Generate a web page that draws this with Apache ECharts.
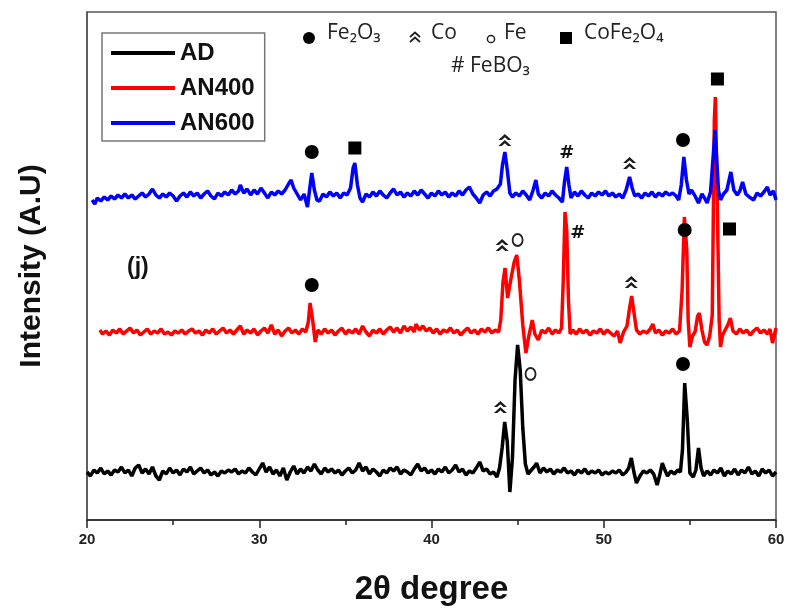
<!DOCTYPE html>
<html>
<head>
<meta charset="utf-8">
<script src="https://cdn.jsdelivr.net/npm/echarts@6/dist/echarts.min.js"></script>
<style>
  html, body { margin: 0; padding: 0; background: #fff; }
  #xrd { width: 792px; height: 615px; }
</style>
</head>
<body>
<div id="xrd"></div>
<script>
// 2theta (deg) / intensity (a.u., traces already offset)
var adData = [[20,48],[20.2,44],[20.4,50],[20.6,47],[20.8,52],[21,46],[21.2,49],[21.4,45],[21.6,50],[21.8,48],[22,53],[22.2,47],[22.4,50],[22.6,44],[22.8,52],[23,55],[23.2,47],[23.4,51],[23.6,46],[23.8,53],[24,44],[24.2,40],[24.4,49],[24.6,46],[24.8,52],[25,47],[25.2,50],[25.4,45],[25.6,51],[25.8,48],[26,53],[26.2,46],[26.4,49],[26.6,52],[26.8,47],[27,50],[27.2,45],[27.4,48],[27.6,44],[27.8,49],[28,47],[28.2,50],[28.4,48],[28.6,51],[28.8,46],[29,49],[29.2,47],[29.4,52],[29.6,48],[29.8,45],[30,51],[30.2,57],[30.4,48],[30.6,53],[30.8,46],[31,50],[31.2,44],[31.4,52],[31.6,40],[31.8,48],[32,54],[32.2,46],[32.4,51],[32.6,47],[32.8,53],[33,49],[33.2,56],[33.4,50],[33.6,46],[33.8,52],[34,48],[34.2,51],[34.4,47],[34.6,50],[34.8,45],[35,49],[35.2,52],[35.4,47],[35.6,50],[35.8,57],[36,49],[36.2,53],[36.4,46],[36.6,51],[36.8,48],[37,44],[37.2,50],[37.4,47],[37.6,52],[37.8,49],[38,53],[38.2,46],[38.4,50],[38.6,48],[38.8,45],[39,51],[39.2,56],[39.4,49],[39.6,52],[39.8,47],[40,50],[40.2,46],[40.4,51],[40.6,48],[40.8,53],[41,47],[41.2,50],[41.4,55],[41.6,48],[41.8,51],[42,45],[42.2,49],[42.4,47],[42.6,52],[42.8,58],[43,49],[43.2,51],[43.4,46],[43.6,48],[43.8,43],[43.95,52],[44.1,72],[44.25,98],[44.4,78],[44.55,28],[44.7,62],[44.85,140],[45,175],[45.15,150],[45.3,92],[45.45,56],[45.6,46],[45.8,50],[46,54],[46.1,57],[46.3,47],[46.5,52],[46.7,48],[46.9,51],[47.1,46],[47.3,50],[47.5,48],[47.7,52],[47.9,47],[48.1,49],[48.3,45],[48.5,50],[48.7,47],[48.9,51],[49.1,46],[49.3,49],[49.5,47],[49.7,50],[49.9,45],[50.1,48],[50.3,46],[50.5,49],[50.7,47],[50.9,50],[51.1,45],[51.3,48],[51.45,52],[51.6,62],[51.75,48],[51.9,37],[52.1,44],[52.3,49],[52.5,47],[52.7,50],[52.9,46],[53.1,35],[53.25,45],[53.4,57],[53.55,50],[53.7,44],[53.9,49],[54.1,46],[54.3,50],[54.45,48],[54.57,70],[54.7,137],[54.85,100],[55,47],[55.2,43],[55.35,50],[55.5,72],[55.65,52],[55.8,44],[56,49],[56.2,45],[56.4,50],[56.6,47],[56.8,52],[57,44],[57.2,49],[57.4,46],[57.6,51],[57.8,45],[58,50],[58.2,47],[58.4,53],[58.6,46],[58.8,49],[59,44],[59.2,51],[59.4,47],[59.6,50],[59.8,44],[60,48]];

var an400Data = [[20.75,190],[20.9,186],[21.1,189],[21.3,185],[21.5,190],[21.7,187],[21.9,191],[22.1,186],[22.3,189],[22.5,192],[22.7,187],[22.9,190],[23.1,185],[23.3,188],[23.5,191],[23.7,186],[23.9,189],[24.1,187],[24.3,191],[24.5,186],[24.7,188],[24.9,185],[25.1,189],[25.3,187],[25.5,190],[25.7,186],[25.9,189],[26.1,191],[26.3,187],[26.5,189],[26.7,185],[26.9,190],[27.1,187],[27.3,191],[27.5,186],[27.7,189],[27.9,192],[28.1,187],[28.3,190],[28.5,186],[28.7,190],[28.9,194],[29.1,186],[29.3,190],[29.5,187],[29.7,191],[29.9,185],[30.1,189],[30.3,192],[30.5,187],[30.7,195],[30.9,186],[31.1,190],[31.3,184],[31.5,189],[31.7,192],[31.9,187],[32.1,190],[32.3,186],[32.5,191],[32.7,188],[32.85,198],[32.95,217],[33.1,200],[33.25,178],[33.4,190],[33.6,186],[33.8,191],[34,187],[34.2,190],[34.4,185],[34.6,189],[34.8,192],[35,186],[35.2,190],[35.4,187],[35.6,191],[35.8,186],[36,194],[36.2,188],[36.4,184],[36.6,190],[36.8,187],[37,191],[37.2,186],[37.4,190],[37.6,193],[37.8,188],[38,192],[38.2,187],[38.4,194],[38.6,189],[38.8,193],[39,188],[39.1,196],[39.3,190],[39.5,194],[39.7,189],[39.9,192],[40.1,187],[40.3,191],[40.5,186],[40.7,190],[40.9,188],[41.1,192],[41.3,187],[41.5,190],[41.7,185],[41.9,189],[42.1,192],[42.3,187],[42.5,190],[42.7,186],[42.9,191],[43.1,188],[43.3,192],[43.5,187],[43.7,190],[43.9,188],[44.02,200],[44.15,238],[44.27,252],[44.42,222],[44.6,240],[44.8,258],[44.95,265],[45.1,240],[45.3,195],[45.48,167],[45.65,184],[45.85,200],[46,186],[46.2,180],[46.4,190],[46.6,187],[46.8,192],[47,186],[47.2,190],[47.4,187],[47.55,192],[47.65,240],[47.75,308],[47.85,290],[47.95,220],[48.05,186],[48.2,190],[48.4,186],[48.6,191],[48.8,187],[49,190],[49.2,185],[49.4,189],[49.6,187],[49.8,191],[50,186],[50.2,190],[50.4,187],[50.6,184],[50.8,189],[50.95,177],[51.15,188],[51.35,194],[51.5,212],[51.62,224],[51.75,208],[51.9,190],[52.1,186],[52.3,189],[52.5,187],[52.7,191],[52.85,196],[53,187],[53.2,190],[53.4,185],[53.6,189],[53.8,187],[54,191],[54.2,186],[54.4,189],[54.55,230],[54.68,303],[54.82,270],[54.9,200],[55,173],[55.15,184],[55.3,188],[55.45,204],[55.55,207],[55.7,190],[55.85,178],[56,175],[56.15,184],[56.3,205],[56.42,400],[56.48,423],[56.58,330],[56.7,200],[56.78,173],[56.9,185],[57.05,190],[57.2,195],[57.35,202],[57.5,189],[57.7,186],[57.9,191],[58.1,187],[58.3,190],[58.5,185],[58.7,189],[58.9,192],[59.1,187],[59.3,190],[59.5,186],[59.65,191],[59.8,177],[60,192]];

var an600Data = [[20.3,320],[20.45,316],[20.6,322],[20.8,319],[21,323],[21.2,320],[21.4,324],[21.6,321],[21.8,325],[22,322],[22.2,326],[22.4,322],[22.6,325],[22.8,321],[23,324],[23.2,327],[23.4,323],[23.6,326],[23.8,331],[24,325],[24.2,322],[24.4,326],[24.6,323],[24.8,327],[25,324],[25.2,319],[25.4,324],[25.6,327],[25.8,323],[26,328],[26.2,324],[26.4,327],[26.6,322],[26.8,326],[27,329],[27.2,324],[27.4,321],[27.6,327],[27.8,324],[28,328],[28.2,325],[28.4,330],[28.6,326],[28.8,329],[28.9,335],[29.1,327],[29.3,331],[29.5,325],[29.7,330],[29.9,326],[30.1,332],[30.3,327],[30.5,322],[30.7,328],[30.9,325],[31.1,329],[31.3,326],[31.5,330],[31.7,336],[31.85,340],[32,332],[32.2,326],[32.4,320],[32.6,326],[32.8,313],[32.92,330],[33.05,347],[33.2,330],[33.35,320],[33.5,319],[33.7,326],[33.9,323],[34.1,328],[34.3,324],[34.5,327],[34.7,322],[34.9,327],[35.1,325],[35.3,332],[35.45,352],[35.55,357],[35.7,335],[35.85,322],[36,318],[36.2,326],[36.4,323],[36.6,328],[36.8,324],[37,329],[37.2,325],[37.4,322],[37.6,327],[37.8,331],[38,325],[38.2,328],[38.4,323],[38.6,327],[38.8,324],[39,329],[39.2,325],[39.4,330],[39.6,326],[39.8,322],[40,327],[40.2,324],[40.4,329],[40.6,325],[40.8,328],[41,323],[41.2,327],[41.4,324],[41.6,329],[41.8,325],[42,330],[42.2,333],[42.4,326],[42.6,322],[42.8,317],[43,325],[43.2,328],[43.4,324],[43.6,329],[43.8,331],[44,336],[44.12,355],[44.26,368],[44.4,350],[44.55,327],[44.7,323],[44.9,327],[45.1,324],[45.3,329],[45.5,325],[45.7,320],[45.9,330],[46.06,340],[46.2,326],[46.4,322],[46.6,327],[46.8,324],[47,329],[47.2,325],[47.4,322],[47.6,318],[47.72,338],[47.85,353],[47.98,335],[48.1,322],[48.3,328],[48.5,324],[48.7,329],[48.9,325],[49.1,322],[49.3,327],[49.5,324],[49.7,328],[49.9,325],[50.1,329],[50.3,324],[50.5,327],[50.7,323],[50.9,326],[51.1,322],[51.3,330],[51.5,343],[51.65,332],[51.8,324],[52,326],[52.2,322],[52.4,327],[52.6,324],[52.8,328],[53,323],[53.2,327],[53.4,324],[53.6,328],[53.8,325],[54,327],[54.2,324],[54.35,320],[54.5,335],[54.65,363],[54.8,340],[54.95,326],[55.1,330],[55.3,324],[55.5,317],[55.7,326],[55.85,322],[56,317],[56.2,328],[56.38,370],[56.46,390],[56.56,360],[56.66,330],[56.78,320],[56.95,326],[57.15,330],[57.38,348],[57.55,330],[57.75,325],[57.9,329],[58.06,338],[58.25,326],[58.45,323],[58.7,320],[58.9,327],[59.1,324],[59.3,328],[59.5,333],[59.65,325],[59.85,329],[60,320]];

var seriesNames = ['AD', 'AN400', 'AN600'];
var xTicks = [20, 30, 40, 50, 60];

// phase markers: [phase, 2theta, height]
var peakMarks = [
  ['Fe2O3', 33.05, 368], ['CoFe2O4', 35.55, 372], ['Co', 44.26, 380], ['FeBO3', 47.85, 367],
  ['Co', 51.5, 357], ['Fe2O3', 54.6, 380], ['CoFe2O4', 56.6, 441],
  ['Fe2O3', 33.05, 235], ['Co', 44.1, 275], ['Fe', 45.0, 280], ['FeBO3', 48.5, 287],
  ['Co', 51.6, 238], ['Fe2O3', 54.7, 290], ['CoFe2O4', 57.3, 291],
  ['Co', 44.0, 113], ['Fe', 45.75, 146], ['Fe2O3', 54.6, 156]
];

var chevron = 'path://M0,5.6L6,0L12,5.6L8.9,5.6L6,3.1L3.1,5.6ZM0,11.2L6,5.6L12,11.2L8.9,11.2L6,8.7L3.1,11.2Z';

function markItem(m) {
  var item = { value: [m[1], m[2]] };
  if (m[0] == 'Fe2O3') { item.symbol = 'circle'; item.symbolSize = 14; }
  else if (m[0] == 'CoFe2O4') { item.symbol = 'rect'; item.symbolSize = 13; }
  else if (m[0] == 'Co') { item.symbol = chevron; item.symbolSize = [13, 12]; item.itemStyle = { color: '#1a1a1a', opacity: 1 }; }
  else if (m[0] == 'Fe') {
    item.symbol = 'circle'; item.symbolSize = [10, 12];
    item.itemStyle = { color: '#fff', borderColor: '#222', borderWidth: 2, opacity: 1 };
  } else {
    item.symbol = 'circle'; item.symbolSize = 1;
    item.itemStyle = { color: 'transparent' };
    item.label = { show: true, formatter: '#', position: 'inside', fontSize: 18, fontWeight: 'bold', color: '#111', fontFamily: 'DejaVu Sans' };
  }
  return item;
}

var myChart = echarts.init(document.getElementById('xrd'));

option = {
  animation: false,
  backgroundColor: '#fff',
  title: {
    text: '(j)', left: 122, top: 251,
    textStyle: { fontFamily: 'Liberation Sans', fontWeight: 'bold', fontSize: 23, color: '#111' }
  },
  legend: {
    data: seriesNames,
    orient: 'vertical',
    left: 102, top: 33,
    padding: [8, 10, 6, 9],
    itemGap: 11,
    itemWidth: 64, itemHeight: 4,
    icon: 'rect',
    borderColor: '#777', borderWidth: 1.5,
    textStyle: { fontFamily: 'Liberation Sans', fontWeight: 'bold', fontSize: 24, color: '#111', lineHeight: 22 }
  },
  grid: {
    left: 87, right: 16, top: 12, bottom: 95,
    show: true, borderColor: '#555', borderWidth: 1.5
  },
  xAxis: {
    type: 'value', min: 20, max: 60, interval: 10,
    name: '2θ degree', nameLocation: 'middle', nameGap: 53,
    nameTextStyle: { fontFamily: 'Liberation Sans', fontWeight: 'bold', fontSize: 33, color: '#111' },
    axisLine: { lineStyle: { color: '#222', width: 1.5 } },
    axisTick: { length: 8, lineStyle: { color: '#222', width: 1.5 } },
    minorTick: { show: true, splitNumber: 2, length: 5, lineStyle: { color: '#222', width: 1.5 } },
    splitLine: { show: false },
    axisLabel: {
      margin: 12, fontFamily: 'Liberation Sans', fontWeight: 'bold', fontSize: 15, color: '#222',
      formatter: function (v) { return xTicks.indexOf(v) >= 0 ? String(v) : ''; }
    }
  },
  yAxis: {
    type: 'value', min: 0, max: 508,
    name: 'Intensity (A.U)', nameLocation: 'middle', nameGap: 40,
    nameTextStyle: { fontFamily: 'Liberation Sans', fontWeight: 'bold', fontSize: 30, color: '#111' },
    axisLine: { show: true, lineStyle: { color: '#555', width: 1.5 } },
    axisTick: { show: false },
    axisLabel: { show: false },
    splitLine: { show: false }
  },
  series: [
    { name: 'AD', type: 'line', data: adData, showSymbol: false, symbol: 'none',
      color: '#000', lineStyle: { width: 3.5, color: '#000' } },
    { name: 'AN400', type: 'line', data: an400Data, showSymbol: false, symbol: 'none',
      color: '#ff0000', lineStyle: { width: 3.5, color: '#ff0000' } },
    { name: 'AN600', type: 'line', data: an600Data, showSymbol: false, symbol: 'none',
      color: '#0000ff', lineStyle: { width: 3.5, color: '#0000ff' } },
    { name: 'marks', type: 'scatter', z: 5, silent: true,
      itemStyle: { color: '#000', opacity: 1 },
      data: peakMarks.map(markItem) }
  ],
  graphic: [
    { type: 'circle', shape: { cx: 309, cy: 38, r: 6 }, style: { fill: '#000' } },
    { type: 'text', left: 327, top: 23, style: { text: 'Fe₂O₃', font: '21px "Open Sans"', fill: '#222' } },
    { type: 'polyline', shape: { points: [[410, 37], [415, 32.5], [420, 37]] }, style: { stroke: '#222', lineWidth: 1.8, fill: null } },
    { type: 'polyline', shape: { points: [[410, 42], [415, 37.5], [420, 42]] }, style: { stroke: '#222', lineWidth: 1.8, fill: null } },
    { type: 'text', left: 431, top: 23, style: { text: 'Co', font: '21px "Open Sans"', fill: '#222' } },
    { type: 'circle', shape: { cx: 491, cy: 39, r: 3.6 }, style: { fill: '#fff', stroke: '#222', lineWidth: 1.5 } },
    { type: 'text', left: 504, top: 23, style: { text: 'Fe', font: '21px "Open Sans"', fill: '#222' } },
    { type: 'rect', shape: { x: 560, y: 32, width: 12, height: 12 }, style: { fill: '#000' } },
    { type: 'text', left: 584, top: 23, style: { text: 'CoFe₂O₄', font: '21px "Open Sans"', fill: '#222' } },
    { type: 'text', left: 451, top: 56, style: { text: '# FeBO₃', font: '21px "Open Sans"', fill: '#222' } }
  ]
};
myChart.setOption(option);
</script>
</body>
</html>
